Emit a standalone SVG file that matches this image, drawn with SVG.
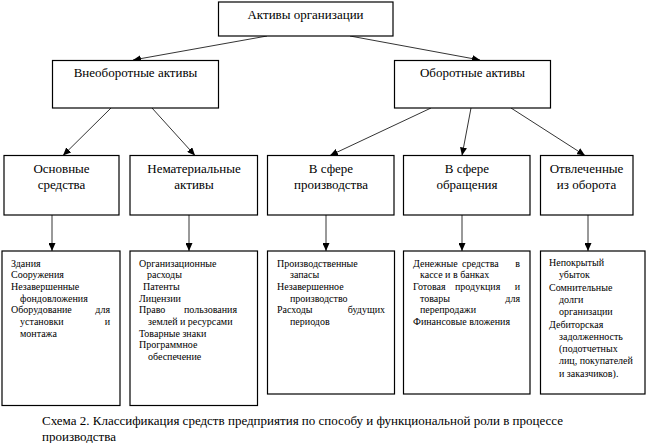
<svg xmlns="http://www.w3.org/2000/svg" width="648" height="443" viewBox="0 0 648 443" font-family="'Liberation Serif', 'DejaVu Serif', serif">
<style>
  .box { fill: #ffffff; stroke: #000000; stroke-width: 1.2; }
  .t13 { font-size: 13px; fill: #000000; text-anchor: middle; }
  .t10 { font-size: 10px; fill: #000000; }
  .end { text-anchor: end; }
  .cap { font-size: 13px; fill: #000000; }
  .conn line { stroke: #000000; stroke-width: 0.8; marker-end: url(#arr); }
</style>
<defs>
  <marker id="arr" markerUnits="userSpaceOnUse" markerWidth="8" markerHeight="7" refX="8" refY="3.5" orient="auto">
    <path d="M0,0 L8,3.5 L0,7 z" fill="#000000"/>
  </marker>
</defs>
<rect width="648" height="443" fill="#ffffff"/>

<g id="connectors" class="conn">
  <line x1="267" y1="36" x2="133" y2="60"/>
  <line x1="350" y1="36" x2="480" y2="60"/>
  <line x1="111" y1="108" x2="63" y2="155.5"/>
  <line x1="152" y1="108" x2="195" y2="155.5"/>
  <line x1="431" y1="108" x2="330" y2="155.5"/>
  <line x1="471" y1="108" x2="462" y2="155.5"/>
  <line x1="511" y1="108" x2="585" y2="155.5"/>
  <line x1="52" y1="215" x2="52" y2="251"/>
  <line x1="189" y1="215" x2="189" y2="251"/>
  <line x1="326" y1="215" x2="326" y2="251"/>
  <line x1="462" y1="215" x2="462" y2="251"/>
  <line x1="588" y1="215" x2="588" y2="251"/>
</g>

<g id="n-root">
  <rect class="box" x="218.5" y="2" width="174.5" height="34"/>
  <text class="t13" x="305.5" y="19">Активы организации</text>
</g>

<g id="n-vneob">
  <rect class="box" x="52.5" y="60.5" width="166" height="47.5"/>
  <text class="t13" x="135.5" y="77">Внеоборотные активы</text>
</g>
<g id="n-obor">
  <rect class="box" x="394.5" y="60.5" width="156" height="47.5"/>
  <text class="t13" x="472.5" y="77">Оборотные активы</text>
</g>

<g id="n-osn">
  <rect class="box" x="4" y="155.5" width="115" height="59.5"/>
  <text class="t13" x="61.5" y="173">Основные</text>
  <text class="t13" x="61.5" y="189">средства</text>
</g>
<g id="n-nemat">
  <rect class="box" x="130" y="155.5" width="127.5" height="59.5"/>
  <text class="t13" x="194" y="173">Нематериальные</text>
  <text class="t13" x="194" y="189">активы</text>
</g>
<g id="n-proizv">
  <rect class="box" x="267.5" y="155.5" width="126.5" height="59.5"/>
  <text class="t13" x="331" y="173">В сфере</text>
  <text class="t13" x="331" y="189">производства</text>
</g>
<g id="n-obrash">
  <rect class="box" x="403.5" y="155.5" width="126.5" height="59.5"/>
  <text class="t13" x="467" y="173">В сфере</text>
  <text class="t13" x="467" y="189">обращения</text>
</g>
<g id="n-otvl">
  <rect class="box" x="540.5" y="155.5" width="92.5" height="59.5"/>
  <text class="t13" x="586.5" y="173">Отвлеченные</text>
  <text class="t13" x="586.5" y="189">из оборота</text>
</g>

<g id="n-osn-list">
  <rect class="box" x="2" y="251" width="118" height="154.5"/>
  <text class="t10" x="11" y="266.5">Здания</text>
  <text class="t10" x="11" y="278.2">Сооружения</text>
  <text class="t10" x="11" y="289.9">Незавершенные</text>
  <text class="t10" x="20" y="301.6">фондовложения</text>
  <text class="t10" x="11" y="313.3">Оборудование</text>
  <text class="t10 end" x="110" y="313.3">для</text>
  <text class="t10" x="20" y="325">установки</text>
  <text class="t10 end" x="110" y="325">и</text>
  <text class="t10" x="20" y="336.7">монтажа</text>
</g>

<g id="n-nemat-list">
  <rect class="box" x="130" y="251" width="127.5" height="154.5"/>
  <text class="t10" x="139" y="266.5">Организационные</text>
  <text class="t10" x="147" y="278.2">расходы</text>
  <text class="t10" x="143" y="289.9">Патенты</text>
  <text class="t10" x="139" y="301.6">Лицензии</text>
  <text class="t10" x="139" y="313.3">Право</text>
  <text class="t10 end" x="237" y="313.3">пользования</text>
  <text class="t10" x="148" y="325">землей и ресурсами</text>
  <text class="t10" x="139" y="336.7">Товарные знаки</text>
  <text class="t10" x="139" y="348.4">Программное</text>
  <text class="t10" x="148" y="360.1">обеспечение</text>
</g>

<g id="n-proizv-list">
  <rect class="box" x="267.5" y="251" width="127" height="143"/>
  <text class="t10" x="277" y="266.5">Производственные</text>
  <text class="t10" x="290" y="278.2">запасы</text>
  <text class="t10" x="277" y="289.9">Незавершенное</text>
  <text class="t10" x="290" y="301.6">производство</text>
  <text class="t10" x="277" y="313.3">Расходы</text>
  <text class="t10 end" x="385" y="313.3">будущих</text>
  <text class="t10" x="290" y="325">периодов</text>
</g>

<g id="n-obrash-list">
  <rect class="box" x="403.5" y="251" width="126.5" height="143"/>
  <text class="t10" x="413" y="266.5">Денежные</text>
  <text class="t10" x="462" y="266.5">средства</text>
  <text class="t10 end" x="520" y="266.5">в</text>
  <text class="t10" x="420" y="278.2">кассе и в банках</text>
  <text class="t10" x="413" y="289.9">Готовая</text>
  <text class="t10" x="455" y="289.9">продукция</text>
  <text class="t10 end" x="520" y="289.9">и</text>
  <text class="t10" x="420" y="301.6">товары</text>
  <text class="t10 end" x="520" y="301.6">для</text>
  <text class="t10" x="420" y="313.3">перепродажи</text>
  <text class="t10" x="413" y="325">Финансовые вложения</text>
</g>

<g id="n-otvl-list">
  <rect class="box" x="540.5" y="251" width="104.5" height="143"/>
  <text class="t10" x="549" y="266">Непокрытый</text>
  <text class="t10" x="559" y="278.3">убыток</text>
  <text class="t10" x="549" y="290.6">Сомнительные</text>
  <text class="t10" x="559" y="302.9">долги</text>
  <text class="t10" x="559" y="315.2">организации</text>
  <text class="t10" x="549" y="327.5">Дебиторская</text>
  <text class="t10" x="559" y="339.8">задолженность</text>
  <text class="t10" x="559" y="352.1">(подотчетных</text>
  <text class="t10" x="559" y="364.4">лиц, покупателей</text>
  <text class="t10" x="559" y="376.7">и заказчиков).</text>
</g>

<g id="caption">
  <text class="cap" x="42" y="425">Схема 2. Классификация средств предприятия по способу и функциональной роли в процессе</text>
  <text class="cap" x="42" y="441">производства</text>
</g>
</svg>
